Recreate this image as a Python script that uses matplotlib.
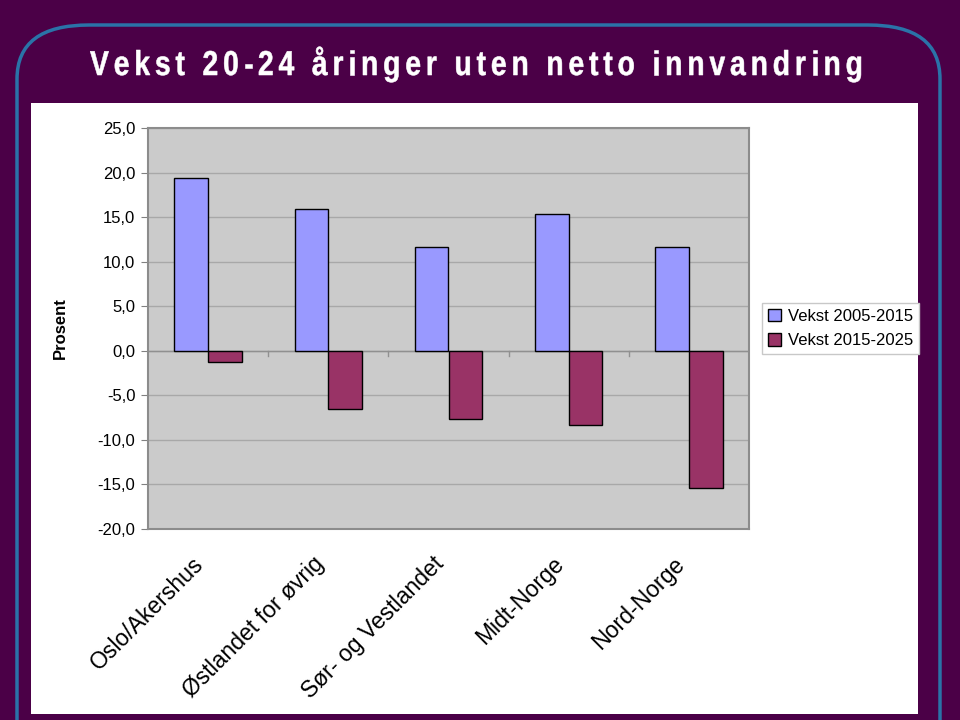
import matplotlib.pyplot as plt
import numpy as np
from matplotlib.patches import FancyBboxPatch, Rectangle, PathPatch
from matplotlib.textpath import TextPath, text_to_path
from matplotlib.font_manager import FontProperties
from matplotlib.transforms import Affine2D, ScaledTranslation

# data
regions = ["Oslo/Akershus", "Østlandet for øvrig", "Sør- og Vestlandet",
           "Midt-Norge", "Nord-Norge"]
vekst_2005_2015 = [19.4, 15.9, 11.7, 15.4, 11.7]
vekst_2015_2025 = [-1.3, -6.5, -7.6, -8.3, -15.4]
series_names = ["Vekst 2005-2015", "Vekst 2015-2025"]
yticks = np.arange(-20, 26, 5)
title = "Vekst 20-24 åringer uten netto innvandring"

purple = "#4B0047"
plt.rcParams["font.family"] = ["Liberation Sans", "DejaVu Sans"]

W, H = 960, 720
fig = plt.figure(figsize=(9.6, 7.2), dpi=100)
fig.patch.set_facecolor(purple)

# rounded blue outline, then the white panel on top
frame = FancyBboxPatch((17 / W, -60 / H), 923 / W, 755 / H,
                       boxstyle="round,pad=0,rounding_size=0.075",
                       transform=fig.transFigure, facecolor="none",
                       edgecolor="#2A73A8", linewidth=2.5, zorder=0)
fig.patches.append(frame)
panel = Rectangle((31 / W, 6 / H), 887 / W, 611 / H, transform=fig.transFigure,
                  facecolor="white", edgecolor="none", zorder=1)
fig.patches.append(panel)

# title: slightly condensed bold letters with wide tracking, in pixel coords
tax = fig.add_axes([0, 0, 1, 1])
tax.set_xlim(0, W)
tax.set_ylim(H, 0)
tax.axis("off")
tax.patch.set_alpha(0)
prop = FontProperties(family="Liberation Sans", weight="bold")
em = 34.5
sx = 0.82
widths = [text_to_path.get_text_width_height_descent(c, prop, ismath=False)[0]
          * em / prop.get_size_in_points() * sx for c in title]
left, right = 90, 861
last_ink = TextPath((0, 0), title[-1], size=em, prop=prop).get_extents().x1 * sx
track = (right - left - sum(widths[:-1]) - last_ink) / (len(title) - 1)
xpos = left
for c, w in zip(title, widths):
    if c != " ":
        tp = TextPath((0, 0), c, size=em, prop=prop)
        path = Affine2D().scale(sx, -1).translate(xpos, 75).transform_path(tp)
        tax.add_patch(PathPatch(path, facecolor="white", edgecolor="white",
                                linewidth=0.4))
    xpos += w + track

ax = fig.add_axes([148 / W, 1 - 529 / H, 601 / W, 401 / H])
ax.set_zorder(2)
ax.set_facecolor("#CBCBCB")

x = np.arange(len(regions))
w = 0.28
ax.bar(x - w / 2, vekst_2005_2015, w, color="#9999FF", edgecolor="black",
       linewidth=1.0, label=series_names[0], zorder=3)
ax.bar(x + w / 2, vekst_2015_2025, w, color="#993366", edgecolor="black",
       linewidth=1.0, label=series_names[1], zorder=3)

ax.set_xlim(-0.5, len(regions) - 0.5)
ax.set_ylim(-20, 25)
ax.set_yticks(yticks)
ax.set_yticklabels([f"{v:.1f}".replace(".", ",") for v in yticks], fontsize=12)
ax.yaxis.grid(True, color="#A8A8A8", linewidth=1.0)
ax.set_axisbelow(True)
ax.tick_params(axis="y", length=5, color="#808080", pad=4)

# zero line with category separator ticks
ax.axhline(0, color="#909090", linewidth=1.0, zorder=2)
for b in np.arange(0.5, len(regions) - 0.5, 1):
    ax.plot([b, b], [0, -0.6], color="#909090", linewidth=1.0, zorder=2)

ax.set_xticks(x)
ax.set_xticklabels(regions, rotation=45, ha="right", va="top",
                   rotation_mode="anchor", fontsize=16.6)
ax.tick_params(axis="x", length=0, pad=17)
shift = ScaledTranslation(-16 / 100, 0, fig.dpi_scale_trans)
for lab in ax.get_xticklabels():
    lab.set_transform(lab.get_transform() + shift)

for s in ax.spines.values():
    s.set_color("#8C8C8C")
    s.set_linewidth(1.5)

ax.set_ylabel("Prosent", fontsize=12, fontweight="bold")
ax.yaxis.set_label_coords(-80 / 601, 0.5)

ax.legend(loc="center left", bbox_to_anchor=(1.0216, 0.5), borderaxespad=0,
          fontsize=12, frameon=True, fancybox=False, edgecolor="#C8C8C8",
          framealpha=1, handlelength=0.8, handleheight=0.8, handletextpad=0.4,
          borderpad=0.35, labelspacing=0.55)

fig.savefig("out.png", dpi=100, facecolor=purple)
